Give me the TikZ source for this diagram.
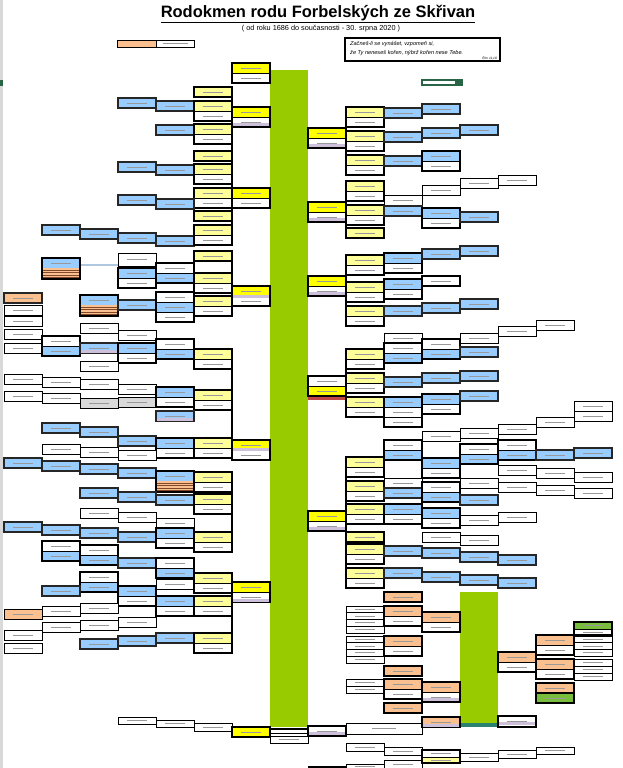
\documentclass[tikz,border=0pt]{standalone}
\usepackage{fontspec}
\setmainfont{Liberation Sans}
\definecolor{yl}{RGB}{255,255,153}
\definecolor{yb}{RGB}{255,255,0}
\definecolor{bl}{RGB}{153,204,255}
\definecolor{pe}{RGB}{250,192,144}
\definecolor{gbar}{RGB}{153,204,0}
\definecolor{gn2}{RGB}{120,190,60}
\definecolor{lav}{RGB}{204,192,218}
\definecolor{gr}{RGB}{217,217,217}
\definecolor{dkg}{RGB}{40,100,70}
\definecolor{teal2}{RGB}{40,130,110}
\definecolor{brn}{RGB}{130,70,40}
\definecolor{rstrip}{RGB}{190,70,70}
\tikzset{
 bthin/.style={draw=black,line width=0.6pt},
 bmed/.style={draw=black!85,line width=1.1pt},
 bthick/.style={draw=black,line width=1.8pt},
 txt/.style={draw=black!40,line width=0.8pt},
 conn/.style={draw=black,line width=1.6pt}
}
\newcommand\bx[5]{%
 \fill[#4] ({4+38*#1},{#2}) rectangle ({42+38*#1},{#2+#3});
 \draw[txt] ({13+38*#1},{#2+#3/2}) -- ({33+38*#1},{#2+#3/2});
 \draw[#5] ({4+38*#1},{#2}) rectangle ({42+38*#1},{#2+#3});}
\newcommand\BS[3]{\bx{#1}{#2}{10}{#3}{bthin}}
\newcommand\BM[3]{\bx{#1}{#2}{10}{#3}{bmed}}
\newcommand\BT[3]{\bx{#1}{#2}{10}{#3}{bthick}}
\newcommand\BD[4]{\bx{#1}{#2}{10}{#3}{bthin}\bx{#1}{#2+10}{10}{#4}{bthin}%
 \draw[bthick] ({4+38*#1},{#2}) rectangle ({42+38*#1},{#2+20});}
\newcommand\BTR[5]{\bx{#1}{#2}{10}{#3}{bthin}\bx{#1}{#2+10}{10}{#4}{bthin}\bx{#1}{#2+20}{10}{#5}{bthin}%
 \draw[bthick] ({4+38*#1},{#2}) rectangle ({42+38*#1},{#2+30});}
\newcommand\LV[2]{\fill[lav] ({5+38*#1},{#2}) rectangle ({41+38*#1},{#2+3});}
\newcommand\STR[2]{\fill[pe] ({4+38*#1},{#2}) rectangle ({42+38*#1},{#2+11});
 \foreach \k in {0,...,3}{\draw[brn,line width=0.7pt] ({4+38*#1},{#2+2+\k*2.5}) -- ({42+38*#1},{#2+2+\k*2.5});}}
\newcommand\BG[4]{\foreach \k in {1,...,#3}{\bx{#1}{#2+(\k-1)*#4}{#4}{white}{bthin}}}
\begin{document}
\begin{tikzpicture}[x=1pt,y=-1pt]
\useasboundingbox (0,0) rectangle (623,768);
\fill[white] (0,0) rectangle (623,768);
% excel row strip
\fill[black!15] (0,0) rectangle (2.5,768);
\fill[dkg] (0,80) rectangle (2.5,86);
% title
\node (title) at (318,14) {\fontsize{16.5}{16.5}\selectfont\bfseries\underline{Rodokmen rodu Forbelských ze Skřivan}};
\node (sub) at (321,29) {\fontsize{7.3}{8}\selectfont ( od roku 1686 do současnosti - 30. srpna 2020 )};
% legend
\fill[pe] (117,40) rectangle (156,47);
\draw[bthin] (117,40) rectangle (194,47);
\draw[bthin] (156,40) -- (156,47);
\draw[txt] (163,43.5) -- (188,43.5);
% quote
\draw[line width=2pt] (345,38) rectangle (500,61.5);
\node[anchor=west,inner sep=0] (q1) at (350,44.5) {\fontsize{5.6}{6}\selectfont\itshape Začneš-li se vynášet, vzpomeň si,};
\node[anchor=west,inner sep=0] (q2) at (350,53) {\fontsize{5.6}{6}\selectfont\itshape že Ty neneseš kořen, nýbrž kořen nese Tebe.};
\node[anchor=east,inner sep=0] (q3) at (497,58.3) {\fontsize{3.2}{3.2}\selectfont\itshape Řím 11,18};
% dark green element
\fill[white] (422,80) rectangle (456,85);
\draw[dkg,line width=1.5pt] (422,80) rectangle (456,85);
\fill[dkg] (457,79) rectangle (463,86);
% green bars
\fill[gbar] (270,70) rectangle (308,727);
\fill[gbar] (460,592) rectangle (498,727);
\fill[teal2] (460,723) rectangle (498,727);
% connectors (left, c5 right edge)
\draw[conn] (232,87) -- (232,245);
\draw[conn] (232,251) -- (232,315);
\draw[conn] (232,349) -- (232,457);
\draw[conn] (232,472) -- (232,552);
\draw[conn] (232,573) -- (232,653);
% connectors (right, c9 left edge)
\draw[conn] (346,107) -- (346,175);
\draw[conn] (346,181) -- (346,239);
\draw[conn] (346,255) -- (346,326);
\draw[conn] (346,349) -- (346,417);
\draw[conn] (346,457) -- (346,588);
% light blue connector
\draw[bl!80!black!60,line width=1.5pt] (80,265) -- (118,265);
% ===== LEFT SIDE =====
\BD{6}{63}{yb}{white}
\BT{5}{87}{yl}
\BM{3}{98}{bl}
\BM{4}{101}{bl}
\BD{5}{101}{yl}{white}
\BD{6}{107}{yb}{white}\LV{6}{123}
\BM{4}{125}{bl}
\BD{5}{124}{yl}{white}
\BT{5}{151}{yl}
\BM{3}{162}{bl}
\BM{4}{165}{bl}
\BD{5}{164}{yl}{white}
\BM{3}{195}{bl}
\BD{5}{188}{yl}{white}
\BD{6}{188}{yb}{white}
\BM{4}{199}{bl}
\BT{5}{211}{yl}
\BM{1}{225}{bl}
\BM{2}{229}{bl}
\BM{3}{233}{bl}
\BM{4}{236}{bl}
\BD{5}{225}{yl}{white}
\BT{5}{251}{yl}
\bx{3}{253}{13}{white}{bthin}
\bx{1}{258}{10}{bl}{bthin}\STR{1}{268}\draw[bthick] (42,258) rectangle (80,279);
\BD{3}{268}{bl}{white}
\BD{4}{263}{white}{bl}
\BD{5}{273}{yl}{white}
\BD{6}{286}{yb}{white}\LV{6}{295}
\bx{0}{293}{10}{pe}{bmed}
\BS{0}{305}{white}
\BS{0}{316}{white}
\BS{0}{329}{white}
\BS{0}{343}{white}
\bx{2}{295}{10}{bl}{bthin}\STR{2}{305}\draw[bthick] (80,295) rectangle (118,316);
\BM{3}{300}{bl}
\BTR{4}{292}{white}{bl}{white}
\BD{5}{296}{yl}{white}
\BS{2}{323}{white}
\BS{3}{330}{white}
\BD{1}{336}{white}{bl}
\BM{2}{343}{bl}\LV{2}{350}
\BD{3}{343}{bl}{white}
\BD{4}{339}{white}{bl}
\BD{5}{349}{yl}{white}
\BS{2}{361}{white}
\BS{0}{374}{white}
\BS{0}{391}{white}
\BS{1}{377}{white}
\BS{1}{393}{white}
\BS{2}{379}{white}
\BS{2}{398}{gr}
\BS{3}{384}{white}
\BS{3}{397}{gr}
\BD{4}{387}{bl}{white}
\BD{5}{390}{yl}{white}
\BM{4}{411}{bl}\LV{4}{418}
\BM{1}{423}{bl}
\BM{2}{427}{bl}
\BM{3}{436}{bl}
\BD{4}{438}{bl}{white}
\BD{5}{438}{yl}{white}
\BD{6}{440}{yb}{white}\LV{6}{448}
\BS{1}{444}{white}
\BS{2}{447}{white}
\BS{3}{450}{white}
\BM{0}{458}{bl}
\BM{1}{461}{bl}
\BM{2}{464}{bl}
\BM{3}{468}{bl}
\bx{4}{471}{10}{bl}{bthin}\STR{4}{481}\draw[bthick] (156,471) rectangle (194,492);
\BD{5}{472}{yl}{white}
\BM{2}{488}{bl}
\BM{3}{492}{bl}
\BM{4}{495}{bl}
\BD{5}{494}{yl}{white}
\BS{2}{508}{white}
\BS{3}{512}{white}
\BS{4}{518}{white}
\BM{0}{522}{bl}
\BM{1}{525}{bl}
\BM{2}{528}{bl}
\BM{3}{532}{bl}
\BD{4}{528}{bl}{white}
\BD{5}{532}{yl}{white}
\BD{1}{541}{white}{bl}
\BD{2}{545}{white}{bl}
\BM{3}{558}{bl}
\BD{4}{558}{white}{bl}
\BS{4}{579}{white}
\BD{2}{572}{white}{bl}
\BM{1}{586}{bl}
\BD{3}{586}{bl}{white}
\BD{5}{573}{yl}{white}
\BD{6}{582}{yb}{white}\LV{6}{599}
\BD{4}{596}{bl}{white}
\BD{5}{596}{yl}{white}
\BS{0}{609}{pe}
\BS{1}{606}{white}
\BS{2}{603}{white}
\BS{3}{617}{white}
\BS{1}{622}{white}
\BS{2}{620}{white}
\BS{0}{630}{white}
\BS{0}{643}{white}
\BM{4}{633}{bl}
\BM{3}{636}{bl}
\BM{2}{639}{bl}
\BD{5}{633}{yl}{white}
% bottom row left
\bx{3}{717}{7}{white}{bthin}
\bx{4}{720}{7}{white}{bthin}
\bx{5}{723}{8}{white}{bthin}
\bx{6}{727}{10}{yb}{bthick}
\draw[line width=1.6pt] (270,729) -- (308,729);
\draw[line width=1.6pt] (270,733.5) -- (308,733.5);
\bx{7}{736}{7}{white}{bthin}
% ===== RIGHT SIDE =====
\BD{8}{128}{yb}{white}\LV{8}{144}
\BD{8}{202}{yb}{white}\LV{8}{218}
\BD{8}{276}{yb}{white}\LV{8}{292}
\BD{8}{376}{white}{yb}
\fill[rstrip] (308,397) rectangle (346,400);
\BD{8}{511}{yb}{white}\LV{8}{527}
\bx{8}{726}{10}{white}{bthick}\LV{8}{732}
% c9
\BD{9}{107}{yl}{white}
\BD{9}{131}{yl}{white}
\BD{9}{155}{yl}{white}
\BD{9}{181}{yl}{white}
\BD{9}{205}{yl}{white}
\BT{9}{228}{yl}
\BD{9}{255}{yl}{white}
\BD{9}{282}{yl}{white}
\BD{9}{306}{yl}{white}
\BD{9}{349}{yl}{white}
\BD{9}{373}{yl}{white}
\BD{9}{397}{yl}{white}
\BD{9}{457}{yl}{white}
\BD{9}{481}{yl}{white}
\BD{9}{504}{yl}{white}
\BT{9}{532}{yl}
\BD{9}{544}{yl}{white}
\BD{9}{568}{yl}{white}
\BG{9}{606}{4}{6.75}
\BG{9}{636}{4}{6.75}
\BG{9}{679}{2}{7}
\fill[white] (346,723) rectangle (422,734);
\draw[txt] (372,728.5) -- (396,728.5);
\draw[bthin] (346,723) rectangle (422,734);
\bx{9}{743}{8}{white}{bthin}
\bx{9}{764}{4}{white}{bthin}
% c10
\BM{10}{108}{bl}
\BM{10}{132}{bl}
\BM{10}{156}{bl}
\BS{10}{195}{white}
\BM{10}{206}{bl}
\BD{10}{253}{bl}{white}
\BD{10}{279}{bl}{white}
\BM{10}{306}{bl}
\BS{10}{333}{white}
\BD{10}{343}{white}{bl}
\BM{10}{377}{bl}
\BTR{10}{397}{bl}{white}{white}
\BD{10}{440}{white}{bl}
\BS{10}{478}{white}
\BM{10}{488}{bl}
\BD{10}{504}{bl}{white}
\BM{10}{546}{bl}
\BM{10}{568}{bl}
\BT{10}{592}{pe}
\BD{10}{606}{pe}{white}
\BD{10}{636}{pe}{white}
\BT{10}{666}{pe}
\BD{10}{679}{pe}{white}
\BT{10}{703}{pe}
\bx{10}{747}{8}{white}{bthin}
\bx{10}{760}{8}{white}{bthin}
% c11
\BM{11}{104}{bl}
\BM{11}{128}{bl}
\BD{11}{151}{bl}{white}
\BS{11}{185}{white}
\BD{11}{208}{bl}{white}
\BM{11}{249}{bl}
\BT{11}{276}{white}
\BM{11}{303}{bl}
\BD{11}{339}{white}{bl}
\BM{11}{373}{bl}
\BD{11}{394}{bl}{white}
\BS{11}{431}{white}
\BD{11}{458}{bl}{white}
\BD{11}{482}{white}{bl}
\BD{11}{508}{bl}{white}
\BS{11}{532}{white}
\BM{11}{548}{bl}
\BM{11}{572}{bl}
\BD{11}{612}{pe}{white}
\BD{11}{682}{pe}{white}\LV{11}{698}
\bx{11}{717}{10}{pe}{bthick}\LV{11}{723.5}
\bx{11}{750}{7}{white}{bthin}\bx{11}{757}{6}{yl}{bthin}\draw[bthick] (422,750) rectangle (460,763);
% c12
\BM{12}{125}{bl}
\BS{12}{178}{white}
\BM{12}{212}{bl}
\BM{12}{246}{bl}
\BM{12}{299}{bl}
\BS{12}{333}{white}
\BM{12}{347}{bl}
\BM{12}{371}{bl}
\BM{12}{391}{bl}
\BS{12}{428}{white}
\BD{12}{444}{white}{bl}
\BS{12}{478}{white}
\BM{12}{495}{bl}
\BS{12}{515}{white}
\BS{12}{535}{white}
\BM{12}{552}{bl}
\BM{12}{575}{bl}
\bx{12}{753}{8}{white}{bthin}
% c13
\BS{13}{175}{white}
\BS{13}{326}{white}
\BS{13}{424}{white}
\BD{13}{440}{white}{bl}
\BS{13}{465}{white}
\BS{13}{482}{white}
\BS{13}{512}{white}
\BM{13}{555}{bl}
\BM{13}{578}{bl}
\BD{13}{652}{pe}{white}
\bx{13}{716}{11}{white}{bthick}\LV{13}{722}
\bx{13}{750}{8}{white}{bthin}
% c14
\BS{14}{320}{white}
\BS{14}{417}{white}
\BM{14}{450}{bl}
\BS{14}{468}{white}
\BS{14}{485}{white}
\BD{14}{635}{pe}{white}
\BD{14}{659}{pe}{white}
\BT{14}{683}{pe}
\BT{14}{693}{gn2}
\bx{14}{747}{7}{white}{bthin}
% c15
\BS{15}{401}{white}
\BS{15}{411}{white}
\BM{15}{448}{bl}
\BS{15}{472}{white}
\BS{15}{488}{white}
\bx{15}{622}{7}{gn2}{bthin}\bx{15}{629}{6}{white}{bthin}\draw[bthick] (574,622) rectangle (612,635);
\BG{15}{636}{3}{6.7}
\BG{15}{659}{3}{7}
\fill[black] (308,765.5) rectangle (346,768);
\end{tikzpicture}
\end{document}
